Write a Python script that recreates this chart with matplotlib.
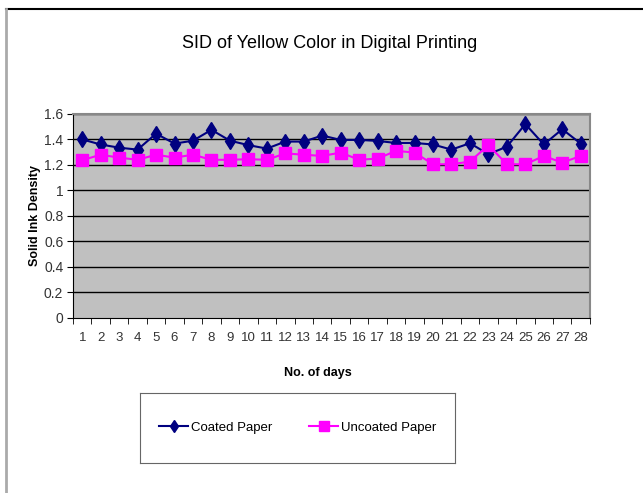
import numpy as np
import matplotlib.pyplot as plt
from matplotlib.lines import Line2D

plt.rcParams['font.family'] = ['Liberation Sans', 'DejaVu Sans']

days = list(range(1, 29))
coated = [1.40, 1.36, 1.335, 1.32, 1.445, 1.367, 1.39, 1.475, 1.39, 1.355,
          1.328, 1.383, 1.383, 1.43, 1.396, 1.396, 1.388, 1.372, 1.372, 1.36,
          1.32, 1.37, 1.284, 1.343, 1.52, 1.36, 1.48, 1.367]
uncoated = [1.237, 1.28, 1.257, 1.24, 1.28, 1.257, 1.28, 1.24, 1.24, 1.245,
            1.24, 1.29, 1.28, 1.27, 1.297, 1.24, 1.25, 1.31, 1.297, 1.205,
            1.205, 1.226, 1.355, 1.205, 1.205, 1.27, 1.218, 1.27]
y_ticks = [0, 0.2, 0.4, 0.6, 0.8, 1, 1.2, 1.4, 1.6]
y_labels = ['0', '0.2', '0.4', '0.6', '0.8', '1', '1.2', '1.4', '1.6']

fig = plt.figure(figsize=(6.43, 4.93), dpi=100)
ax = fig.add_axes([0.1135, 0.355, 0.804, 0.414])
ax.set_facecolor('#c0c0c0')

ax.plot(days, coated, color='#000080', marker='d', markersize=8, lw=1.5,
        label='Coated Paper', zorder=3)
ax.plot(days, uncoated, color='#ff00ff', marker='s', markersize=8, lw=1.5,
        label='Uncoated Paper', zorder=3)

ax.set_xlim(0.5, 28.5)
ax.set_ylim(0, 1.6)
ax.set_yticks(y_ticks)
ax.set_yticklabels(y_labels, fontsize=10, color='#333333')
ax.set_xticks(days)
ax.set_xticklabels([str(d) for d in days], fontsize=9.5, color='#333333')
ax.set_xticks(np.arange(0.5, 29, 1), minor=True)
ax.tick_params(axis='x', which='major', length=0, pad=10)
ax.tick_params(axis='x', which='minor', length=4, direction='out', color='black')
ax.tick_params(axis='y', length=4, direction='out', color='black', pad=3)
for y in y_ticks[1:]:
    ax.axhline(y, color='black', lw=1, zorder=1)

for s in ['top', 'right']:
    ax.spines[s].set_color('#888888')
    ax.spines[s].set_linewidth(1.5)
ax.spines['left'].set_color('black')
ax.spines['bottom'].set_color('black')

fig.text(0.513, 0.911, 'SID of Yellow Color in Digital Printing', ha='center',
         va='center', fontsize=13)
fig.text(0.495, 0.243, 'No. of days', ha='center', va='center', fontsize=9,
         fontweight='bold')
fig.text(0.054, 0.562, 'Solid Ink Density', ha='center', va='center',
         rotation=90, fontsize=9, fontweight='bold')

# legend box
lg = fig.add_axes([0.218, 0.061, 0.49, 0.142])
lg.set_xticks([])
lg.set_yticks([])
for s in lg.spines.values():
    s.set_color('#666666')
h, l = ax.get_legend_handles_labels()
handles = [Line2D([], [], color='#000080', marker='d', markersize=6, lw=1.5),
           Line2D([], [], color='#ff00ff', marker='s', markersize=7, lw=1.5)]
lg.legend(handles, l, loc='center', ncol=2, frameon=False, fontsize=9.5,
          handlelength=2.2, handletextpad=0.2, columnspacing=2.8)

# outer frame
fig.add_artist(Line2D([0.009, 1.0], [0.982, 0.982], color='black', lw=1.5))
fig.add_artist(Line2D([0.009, 0.009], [0.0, 0.982], color='#aaaaaa', lw=2))

fig.savefig('out.png', dpi=100)
